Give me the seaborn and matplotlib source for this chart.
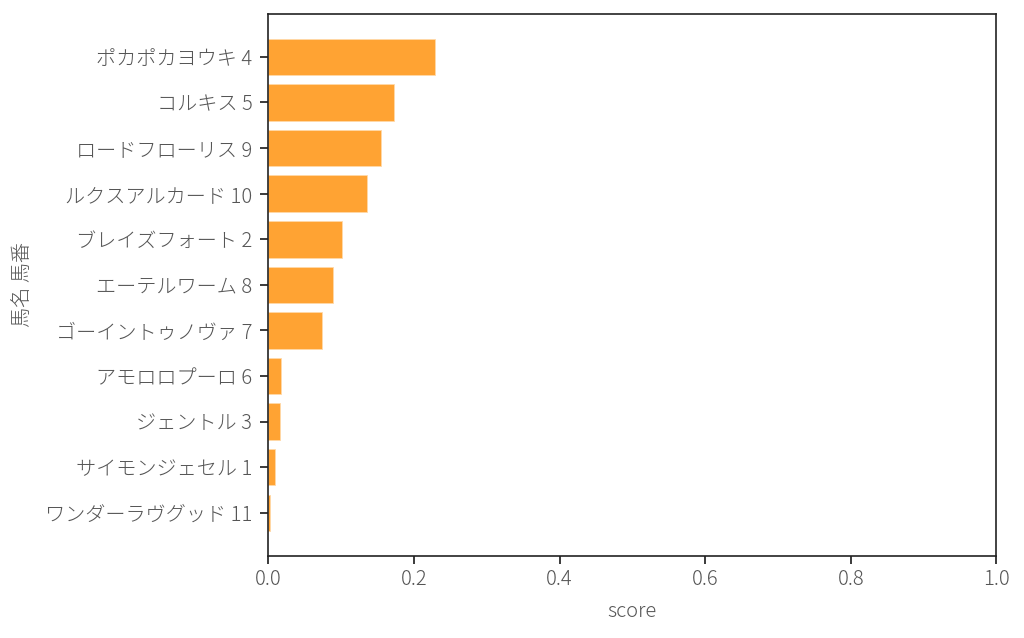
import matplotlib
matplotlib.use("Agg")
import matplotlib.pyplot as plt
import seaborn as sns
import pandas as pd

names = ["ポカポカヨウキ 4", "コルキス 5", "ロードフローリス 9", "ルクスアルカード 10",
         "ブレイズフォート 2", "エーテルワーム 8", "ゴーイントゥノヴァ 7", "アモロロプーロ 6",
         "ジェントル 3", "サイモンジェセル 1", "ワンダーラヴグッド 11"]
scores = [0.229, 0.172, 0.155, 0.135, 0.101, 0.089, 0.074, 0.018, 0.0155, 0.0087, 0.0027]

df = pd.DataFrame({"馬名 馬番": names, "score": scores})

sns.set_theme(style="ticks")
plt.rcParams['font.family'] = ['Noto Sans CJK JP', 'DejaVu Sans']
plt.rcParams['font.weight'] = 300
plt.rcParams['axes.labelweight'] = 300
plt.rcParams['text.color'] = '#555555'
plt.rcParams['axes.labelcolor'] = '#555555'
plt.rcParams['xtick.color'] = '#222222'
plt.rcParams['ytick.color'] = '#222222'
plt.rcParams['xtick.labelcolor'] = '#555555'
plt.rcParams['ytick.labelcolor'] = '#555555'

fig, ax = plt.subplots(figsize=(10.24, 6.38), dpi=100)
sns.barplot(data=df, x="score", y="馬名 馬番", color="#ffa333", saturation=1,
            width=0.8, edgecolor="#ffd9a8", linewidth=0.6, ax=ax)
ax.set_xlim(0, 1.0)
ax.set_ylim(10.94, -0.94)
ax.set_xticks([0.0, 0.2, 0.4, 0.6, 0.8, 1.0])
ax.tick_params(labelsize=14.5)
ax.tick_params(axis='y', pad=5.5)
ax.xaxis.label.set_size(14.5)
ax.yaxis.label.set_size(14.5)
ax.yaxis.labelpad = 8
ax.xaxis.labelpad = 8
for s in ax.spines.values():
    s.set_color('#222222')
    s.set_linewidth(1.2)

fig.subplots_adjust(left=0.262, right=0.973, top=0.978, bottom=0.129)
fig.savefig("out.png", dpi=100)
